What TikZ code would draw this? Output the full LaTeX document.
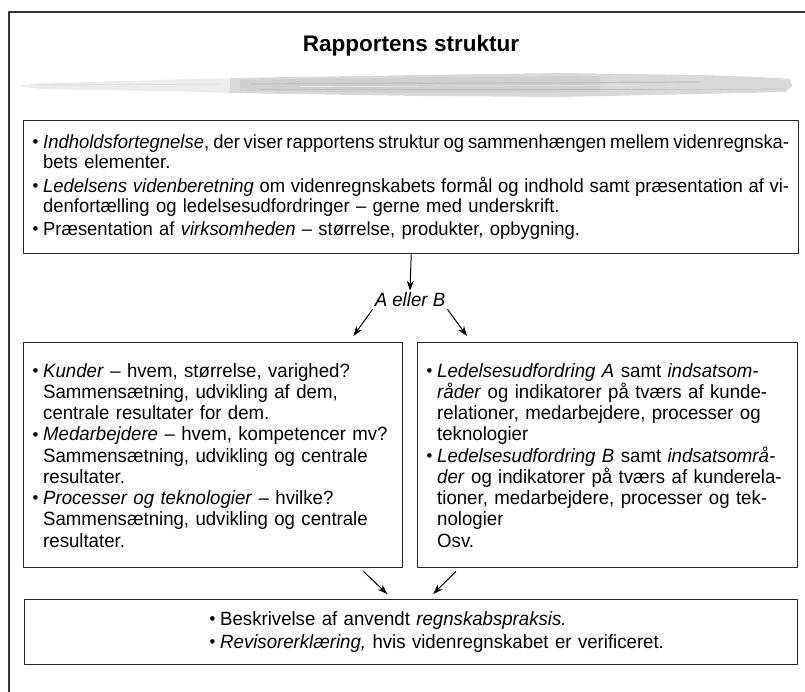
\documentclass[tikz,border=0pt]{standalone}
\usepackage{fontspec}
\setmainfont{Liberation Sans}[FakeStretch=0.97]
\newfontfamily\titlefont{Liberation Sans}
\usepackage{tikz}
\usetikzlibrary{arrows.meta}

\newcommand{\bul}{\makebox[10.5pt][l]{\raisebox{0.04em}{\fontsize{17}{17}\selectfont•}}}
\newcommand{\ind}{\hspace*{10.5pt}}
% justified line of a given width
\newcommand{\fitline}[2]{\makebox[#1][s]{\spaceskip=0.27em plus 0.3em minus 0.1em #2}}

\begin{document}
\begin{tikzpicture}[x=1pt, y=-1pt, line join=round,
  box/.style = {draw=black!85, line width=1.4pt, inner xsep=9pt, inner ysep=4pt,
                align=left, anchor=north west, font=\fontsize{19.2}{21.25}\selectfont},
  arr/.style = {-{Stealth[length=10pt,width=7pt]}, line width=1pt}]
\useasboundingbox (0,0) rectangle (805,692);

% frame
\draw[line width=1.2pt, black!80] (805,12) -- (9,12) -- (9,692);

% title and brush stroke
\node[font=\fontsize{22.5}{26}\titlefont\bfseries, anchor=base] (title) at (411,52) {Rapportens struktur};
\fill[gray!15] (18,86) -- (40,83) -- (90,82) -- (160,80) -- (235,78) -- (235,93) -- (160,91) -- (90,90) -- (40,89) -- cycle;
\fill[gray!30] (230,78) -- (420,75) -- (560,73) -- (700,75) -- (760,77) -- (790,79) -- (792,86)
  -- (786,92) -- (700,94) -- (560,97) -- (420,96) -- (230,93) -- cycle;
\fill[gray!38] (240,80) -- (430,77) -- (600,76) -- (600,92) -- (430,93) -- (240,91) -- cycle;
\draw[gray!48, line width=1.2pt] (250,84) -- (700,82);
\draw[gray!50, line width=0.8pt] (260,89) -- (680,89);
\draw[white!80!gray, line width=0.7pt] (300,86.5) -- (640,85.5);
\draw[white!70!gray, line width=0.6pt] (620,80) -- (780,81.5);
\draw[gray!42, line width=0.8pt] (640,90) -- (785,89);
\draw[gray!25, line width=1pt] (40,85) -- (220,84);

% boxes
\node[box, text width=757pt, minimum height=133pt, font=\fontsize{19}{20}\selectfont] (intro) at (23,120) {%
\bul\fitline{746pt}{\emph{Indholdsfortegnelse}, der viser rapportens struktur og sammenhængen mellem videnregnska-}\\
\ind bets elementer.\\[3.5pt]
\bul\fitline{746pt}{\emph{Ledelsens videnberetning} om videnregnskabets formål og indhold samt præsentation af vi-}\\
\ind denfortælling og ledelsesudfordringer -- gerne med underskrift.\\[3.5pt]
\bul Præsentation af \emph{virksomheden} -- størrelse, produkter, opbygning.};

\node[font=\fontsize{19.2}{21}\selectfont\itshape, inner sep=2pt] (ab) at (410,300) {A eller B};

\node[box, text width=361pt, minimum height=225pt] (kpi) at (23,342) {%
\bul\emph{Kunder} -- hvem, størrelse, varighed?\\
\ind Sammensætning, udvikling af dem,\\
\ind centrale resultater for dem.\\
\bul\emph{Medarbejdere} -- hvem, kompetencer mv?\\
\ind Sammensætning, udvikling og centrale\\
\ind resultater.\\
\bul\emph{Processer og teknologier} -- hvilke?\\
\ind Sammensætning, udvikling og centrale\\
\ind resultater.};

\node[box, text width=362pt, minimum height=225pt] (lead) at (417,342) {%
\bul\emph{Ledelsesudfordring A} samt \emph{indsatsom-}\\
\ind\emph{råder} og indikatorer på tværs af kunde-\\
\ind relationer, medarbejdere, processer og\\
\ind teknologier\\
\bul\emph{Ledelsesudfordring B} samt \emph{indsatsområ-}\\
\ind\emph{der} og indikatorer på tværs af kunderela-\\
\ind tioner, medarbejdere, processer og tek-\\
\ind nologier\\
\ind Osv.};

\node[box, text width=755pt, minimum height=65pt, font=\fontsize{19.2}{23}\selectfont] (close) at (24,599) {%
\hspace*{176pt}\bul Beskrivelse af anvendt \emph{regnskabspraksis.}\\
\hspace*{176pt}\bul\emph{Revisorerklæring,} hvis videnregnskabet er verificeret.};

% connectors
\draw[arr] (intro.south) -- (ab.north);
\draw[arr] (ab.south west) -- ([xshift=-50pt,yshift=6pt]kpi.north east);
\draw[arr] (ab.south east) -- ([xshift=50pt,yshift=6pt]lead.north west);
\draw[arr] ([xshift=-40pt,yshift=-3pt]kpi.south east) -- ([xshift=-24pt,yshift=5pt]close.north);
\draw[arr] ([xshift=39pt,yshift=-3pt]lead.south west) -- ([xshift=22pt,yshift=5pt]close.north);
\end{tikzpicture}
\end{document}
